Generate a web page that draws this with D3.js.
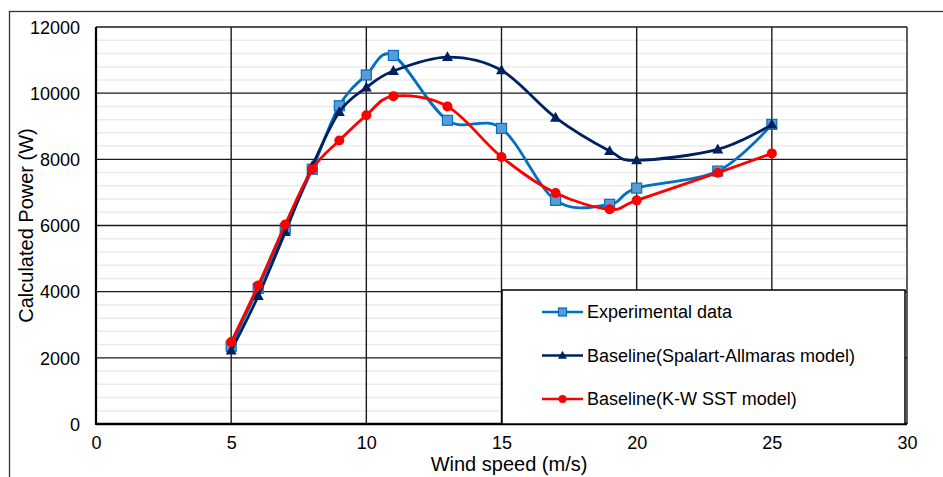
<!DOCTYPE html>
<html>
<head>
<meta charset="utf-8">
<script src="https://cdn.jsdelivr.net/npm/d3@7"></script>
<style>
  html, body { margin: 0; padding: 0; background: #fff; }
  svg { display: block; font-family: "Liberation Sans", Arial, sans-serif; }
</style>
</head>
<body>
<div id="chart"></div>
<script>
// chart values
const windSpeed = [5, 6, 7, 8, 9, 10, 11, 13, 15, 17, 19, 20, 23, 25]
const experimental = [2350, 4100, 5900, 7700, 9620, 10550, 11140, 9180, 8935, 6760, 6640, 7130, 7645, 9057]
const spalartAllmaras = [2220, 3870, 5800, 7800, 9430, 10170, 10670, 11090, 10690, 9260, 8250, 7970, 8300, 9050]
const kwSst = [2475, 4190, 6030, 7700, 8570, 9330, 9910, 9600, 8070, 6980, 6490, 6760, 7595, 8180]

const xTicks = [0, 5, 10, 15, 20, 25, 30]
const yTicks = [0, 2000, 4000, 6000, 8000, 10000, 12000]
const yMinorTicks = d3.range(400, 12000, 400).filter(v => v % 2000 !== 0)

const seriesNames = ['Experimental data', 'Baseline(Spalart-Allmaras model)', 'Baseline(K-W SST model)']

const width = 943
const height = 477
const margin = { top: 27, right: 36, bottom: 53, left: 96 }

const svg = d3.select('#chart')
  .append('svg')
  .attr('width', width)
  .attr('height', height)

// outer chart frame, runs off the right and bottom of the picture
svg.append('rect')
  .attr('x', 9.5).attr('y', 11.5)
  .attr('width', width).attr('height', height)
  .attr('fill', 'none')
  .attr('stroke', '#333')
  .attr('stroke-width', 1.3)

const x = d3.scaleLinear().domain([0, 30]).range([margin.left, width - margin.right])
const y = d3.scaleLinear().domain([0, 12000]).range([height - margin.bottom, margin.top])

const g = svg.append('g')

// minor horizontal grid
g.selectAll('line.minor')
  .data(yMinorTicks)
  .enter().append('line')
  .attr('class', 'minor')
  .attr('x1', x(0)).attr('x2', x(30))
  .attr('y1', d => y(d)).attr('y2', d => y(d))
  .attr('stroke', '#ebebeb')
  .attr('stroke-width', 1.5)

// major grid
g.selectAll('line.hmajor')
  .data(yTicks.slice(1))
  .enter().append('line')
  .attr('class', 'hmajor')
  .attr('x1', x(0)).attr('x2', x(30))
  .attr('y1', d => y(d)).attr('y2', d => y(d))
  .attr('stroke', '#1a1a1a')
  .attr('stroke-width', 1.4)

g.selectAll('line.vmajor')
  .data(xTicks.slice(1))
  .enter().append('line')
  .attr('class', 'vmajor')
  .attr('x1', d => x(d)).attr('x2', d => x(d))
  .attr('y1', y(0)).attr('y2', y(12000))
  .attr('stroke', '#1a1a1a')
  .attr('stroke-width', 1.4)

// axes: labels only, Excel draws no tick marks here
const xAxis = svg.append('g')
  .attr('transform', `translate(0,${y(0)})`)
  .call(d3.axisBottom(x).tickValues(xTicks).tickSize(0).tickPadding(12))
xAxis.select('.domain').remove()
xAxis.selectAll('text').attr('font-size', 18).attr('fill', '#000')

const yAxis = svg.append('g')
  .attr('transform', `translate(${x(0)},0)`)
  .call(d3.axisLeft(y).tickValues(yTicks).tickFormat(d3.format('d')).tickSize(0).tickPadding(16))
yAxis.select('.domain').remove()
yAxis.selectAll('text').attr('font-size', 18).attr('fill', '#000').attr('dy', '0.35em')

// plot border, left and bottom a little heavier
svg.append('line')
  .attr('x1', x(0)).attr('x2', x(0)).attr('y1', y(0) + 1).attr('y2', y(12000))
  .attr('stroke', '#000').attr('stroke-width', 2.2)
svg.append('line')
  .attr('x1', x(0)).attr('x2', x(30)).attr('y1', y(0)).attr('y2', y(0))
  .attr('stroke', '#000').attr('stroke-width', 2.4)

// axis titles
svg.append('text')
  .attr('x', 509).attr('y', 471)
  .attr('text-anchor', 'middle')
  .attr('font-size', 20)
  .text('Wind speed (m/s)')

svg.append('text')
  .attr('transform', `translate(33,${(y(0) + y(12000)) / 2}) rotate(-90)`)
  .attr('text-anchor', 'middle')
  .attr('font-size', 20)
  .text('Calculated Power (W)')

// series
const series = [
  { name: seriesNames[0], values: experimental, line: '#0070C0', fill: '#5B9BD5', marker: 'square' },
  { name: seriesNames[1], values: spalartAllmaras, line: '#002060', fill: '#002060', marker: 'triangle' },
  { name: seriesNames[2], values: kwSst, line: '#FF0000', fill: '#FF0000', marker: 'circle' },
]

const line = d3.line()
  .x(d => x(d[0]))
  .y(d => y(d[1]))
  .curve(d3.curveCardinal.tension(0))

function drawMarker(sel, s, size) {
  if (s.marker === 'square') {
    sel.append('rect')
      .attr('x', -size / 2).attr('y', -size / 2)
      .attr('width', size).attr('height', size)
      .attr('fill', s.fill)
      .attr('stroke', s.line)
      .attr('stroke-width', 1.2)
  } else if (s.marker === 'triangle') {
    const h = size * 0.95
    sel.append('path')
      .attr('d', `M0,${-h * 0.62}L${size / 2 + 0.5},${h * 0.42}L${-size / 2 - 0.5},${h * 0.42}Z`)
      .attr('fill', s.fill)
  } else {
    sel.append('circle')
      .attr('r', size / 2)
      .attr('fill', s.fill)
  }
}

series.forEach(s => {
  const pts = windSpeed.map((w, i) => [w, s.values[i]])
  const sg = svg.append('g')
  sg.append('path')
    .datum(pts)
    .attr('d', line)
    .attr('fill', 'none')
    .attr('stroke', s.line)
    .attr('stroke-width', 2.8)
  sg.selectAll('g.pt')
    .data(pts)
    .enter().append('g')
    .attr('class', 'pt')
    .attr('transform', d => `translate(${x(d[0])},${y(d[1])})`)
    .each(function () { drawMarker(d3.select(this), s, 10) })
})

// legend box
const legend = svg.append('g')
legend.append('rect')
  .attr('x', 502).attr('y', 290)
  .attr('width', 403).attr('height', 134)
  .attr('fill', '#fff')
  .attr('stroke', '#000')
  .attr('stroke-width', 1.5)

series.forEach((s, i) => {
  const ly = 312 + i * 43.5
  const row = legend.append('g')
  row.append('line')
    .attr('x1', 542).attr('x2', 583)
    .attr('y1', ly).attr('y2', ly)
    .attr('stroke', s.line)
    .attr('stroke-width', 2.6)
  const m = row.append('g').attr('transform', `translate(562.5,${ly})`)
  drawMarker(m, s, 8)
  row.append('text')
    .attr('x', 587).attr('y', ly)
    .attr('dy', '0.35em')
    .attr('font-size', 18)
    .text(s.name)
})
</script>
</body>
</html>
